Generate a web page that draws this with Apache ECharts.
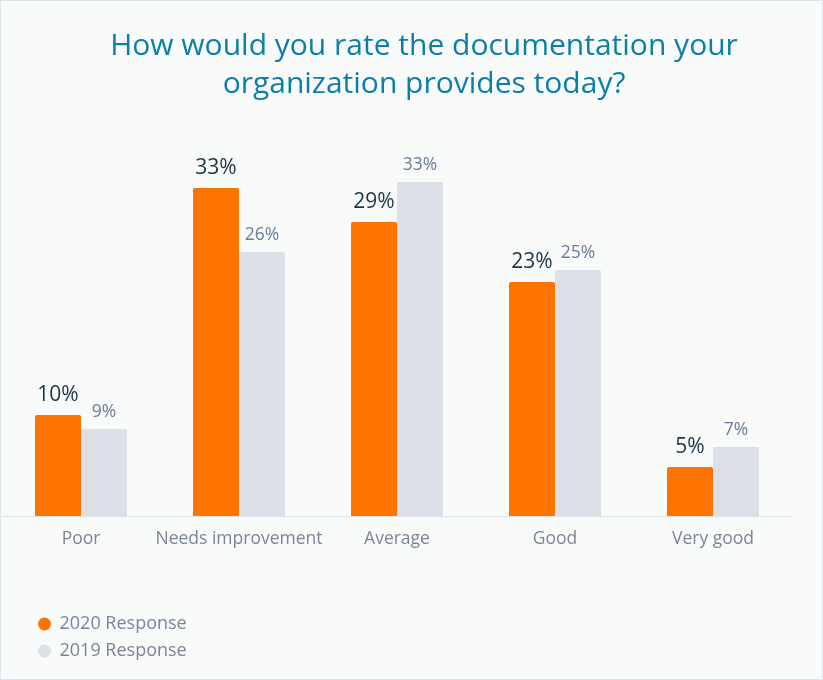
<!DOCTYPE html>
<html>
<head>
<meta charset="utf-8">
<script src="https://cdn.jsdelivr.net/npm/echarts@6/dist/echarts.min.js"></script>
<style>
    html, body { margin: 0; padding: 0; background: #f9fbfb; }
    #chart { width: 823px; height: 680px; box-sizing: border-box; border: 1px solid #e2e5e8; }
</style>
</head>
<body>
<div id="chart"></div>
<script>
    // values (labels are rounded)
    var categories = ['Poor', 'Needs improvement', 'Average', 'Good', 'Very good'];
    var seriesNames = ['2020 Response', '2019 Response'];
    var values2020 = [10.1, 32.8, 29.4, 23.4, 4.9];
    var values2019 = [8.7, 26.4, 33.4, 24.6, 6.9];

    var myChart = echarts.init(document.getElementById('chart'));
    var option = {
        backgroundColor: '#f9fbfb',
        textStyle: { fontFamily: 'Open Sans' },
        title: {
            text: 'How would you rate the documentation your\norganization provides today?',
            left: 418,
            top: 21,
            textAlign: 'center',
            textStyle: {
                color: '#0b7fa9',
                fontSize: 30,
                fontWeight: 'normal',
                lineHeight: 38,
                fontFamily: 'Open Sans'
            }
        },
        legend: {
            orient: 'vertical',
            left: 32,
            top: 609,
            icon: 'circle',
            itemWidth: 20,
            itemHeight: 13,
            itemGap: 9,
            textStyle: { color: '#7a8598', fontSize: 18 },
            data: seriesNames
        },
        grid: {
            left: 1,
            right: 30,
            top: 115,
            bottom: 163,
            containLabel: false
        },
        xAxis: {
            type: 'category',
            data: categories,
            axisTick: { show: false },
            axisLine: { lineStyle: { color: '#dcdfe3', width: 1 } },
            axisLabel: { color: '#7a8598', fontSize: 17.5, margin: 14, interval: 0 }
        },
        yAxis: {
            type: 'value',
            min: 0,
            max: 40,
            show: false,
            splitLine: { show: false }
        },
        series: [
            {
                name: seriesNames[0],
                type: 'bar',
                barWidth: 46,
                barGap: 0,
                itemStyle: { color: '#ff7300', borderRadius: [2, 2, 0, 0] },
                label: {
                    show: true,
                    position: 'top',
                    distance: 9,
                    color: '#1c3547',
                    fontSize: 21,
                    formatter: function (p) { return Math.round(p.value) + '%'; }
                },
                data: values2020
            },
            {
                name: seriesNames[1],
                type: 'bar',
                barWidth: 46,
                barGap: 0,
                itemStyle: { color: '#dde0e7', borderRadius: [2, 2, 0, 0] },
                label: {
                    show: true,
                    position: 'top',
                    distance: 8,
                    color: '#6a7c9b',
                    fontSize: 17.5,
                    formatter: function (p) { return Math.round(p.value) + '%'; }
                },
                data: values2019
            }
        ]
    };
    myChart.setOption(option, true);
    window.addEventListener('resize', function () {
        myChart.resize();
    });
</script>
</body>
</html>
